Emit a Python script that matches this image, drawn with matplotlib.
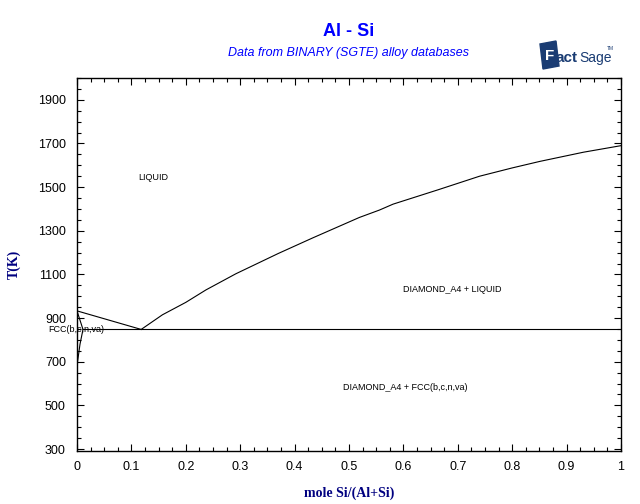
import matplotlib
matplotlib.use('Agg')
import matplotlib.pyplot as plt
from matplotlib.ticker import MultipleLocator
from matplotlib.patches import Polygon

plt.rcParams['font.family'] = 'Liberation Sans'

# Al-side liquidus and FCC boundaries (mole fraction Si, T in K)
liq_al_x = [0.0, 0.118]
liq_al_t = [933, 848]
solidus_x = [0.0, 0.011]
solidus_t = [933, 848]
solvus_x = [0.011, 0.0055, 0.001, 0.0003, 0.0]
solvus_t = [848, 780, 700, 640, 594]

# Si-side liquidus
liq_si_x = [0.118, 0.157, 0.2, 0.237, 0.292, 0.37, 0.433, 0.519, 0.556,
            0.581, 0.664, 0.740, 0.8, 0.851, 0.931, 1.0]
liq_si_t = [848, 915, 972, 1029, 1103, 1196, 1267, 1361, 1395,
            1422, 1488, 1550, 1588, 1618, 1660, 1690]

# eutectic line
eut_x = [0.011, 1.0]
eut_t = [848, 848]

x_ticks = [i / 10 for i in range(11)]
x_labels = ['0'] + ['%.1f' % (i / 10) for i in range(1, 10)] + ['1']
y_ticks = list(range(300, 2000, 200))

fig = plt.figure(figsize=(6.4, 5.04), dpi=100)
ax = fig.add_axes([77 / 640, 1 - 451 / 504, 544 / 640, 373 / 504])

lw = 0.8
ax.plot(liq_al_x, liq_al_t, color='black', lw=lw)
ax.plot(solidus_x, solidus_t, color='black', lw=lw)
ax.plot(solvus_x, solvus_t, color='black', lw=lw)
ax.plot(liq_si_x, liq_si_t, color='black', lw=lw)
ax.plot(eut_x, eut_t, color='black', lw=lw)

ax.set_xlim(0, 1)
ax.set_ylim(291, 2000)
ax.set_xticks(x_ticks)
ax.set_xticklabels(x_labels)
ax.xaxis.set_minor_locator(MultipleLocator(0.025))
ax.set_yticks(y_ticks)
ax.yaxis.set_minor_locator(MultipleLocator(50))
ax.tick_params(which='both', direction='in', top=True, right=True,
               labelsize=9, colors='black', width=0.8)
ax.tick_params(which='major', length=5)
ax.tick_params(which='minor', length=3)
ax.tick_params(axis='y', pad=8)
ax.tick_params(axis='x', pad=7)
for s in ax.spines.values():
    s.set_linewidth(1)

# region labels
ax.text(0.112, 1543, 'LIQUID', fontsize=6.5, va='center', ha='left')
ax.text(0.689, 1029, 'DIAMOND_A4 + LIQUID', fontsize=6.5, va='center', ha='center')
ax.text(0.604, 584, 'DIAMOND_A4 + FCC(b,c,n,va)', fontsize=6.5, va='center', ha='center')
ax.text(-0.052, 846, 'FCC(b,c,n,va)', fontsize=6.5, va='center', ha='left', clip_on=False)

ax.set_xlabel('mole Si/(Al+Si)', family='Liberation Serif', fontweight='bold',
              fontsize=10, color='#000080', labelpad=10)
ax.set_ylabel('T(K)', family='Liberation Serif', fontweight='bold',
              fontsize=10, color='#000080', labelpad=12)

fig.text(349 / 640, 1 - 31 / 504, 'Al - Si', ha='center', va='center',
         fontsize=13, fontweight='bold', color='#0000FF')
fig.text(349 / 640, 1 - 53 / 504, 'Data from BINARY (SGTE) alloy databases',
         ha='center', va='center', fontsize=9, style='italic', color='#0000FF')

# FactSage logo (approximate)
logo = '#1a3c73'
fig.patches.append(Polygon([(540 / 640, 1 - 44 / 504), (556 / 640, 1 - 41 / 504),
                            (559 / 640, 1 - 66 / 504), (543 / 640, 1 - 69 / 504)],
                           closed=True, transform=fig.transFigure, color=logo, zorder=1))
fig.text(545 / 640, 1 - 56 / 504, 'F', ha='left', va='center', fontsize=11,
         fontweight='bold', color='white', zorder=3)
fig.text(556 / 640, 1 - 58 / 504, 'act', ha='left', va='center', fontsize=11,
         fontweight='bold', color=logo, zorder=3)
fig.text(579 / 640, 1 - 58 / 504, 'Sage', ha='left', va='center', fontsize=10,
         color=logo, zorder=3)
fig.text(607 / 640, 1 - 48 / 504, 'TM', ha='left', va='center', fontsize=3.5, color=logo)

fig.savefig('out.png', dpi=100)
